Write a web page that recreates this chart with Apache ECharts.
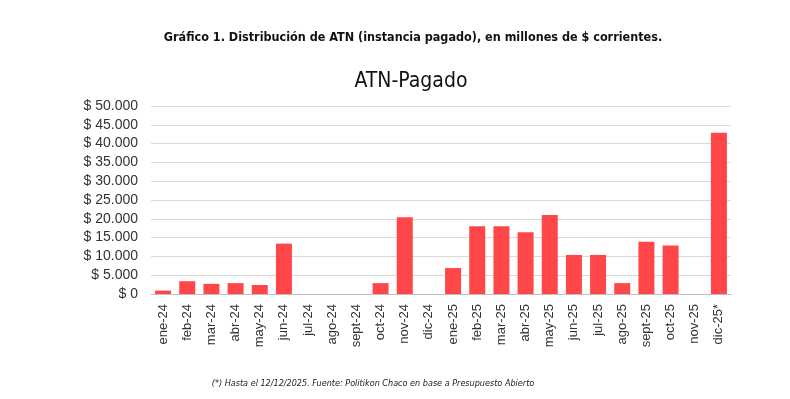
<!DOCTYPE html>
<html>
<head>
    <meta charset="utf-8">
    <title>ATN-Pagado</title>
    <script src="https://cdn.jsdelivr.net/npm/echarts@6/dist/echarts.min.js"></script>
    <style>
        html, body { margin: 0; padding: 0; background: #ffffff; }
        #chart { width: 790px; height: 399px; }
    </style>
</head>
<body>
<div id="chart"></div>
<script>
    // datos (millones de $ corrientes)
    var meses = ['ene-24', 'feb-24', 'mar-24', 'abr-24', 'may-24', 'jun-24', 'jul-24', 'ago-24', 'sept-24', 'oct-24', 'nov-24', 'dic-24',
                 'ene-25', 'feb-25', 'mar-25', 'abr-25', 'may-25', 'jun-25', 'jul-25', 'ago-25', 'sept-25', 'oct-25', 'nov-25', 'dic-25*'];
    var pagado = [900, 3400, 2700, 2900, 2400, 13400, 0, 0, 0, 2900, 20400, 0,
                  6900, 18000, 18000, 16400, 21000, 10400, 10400, 2900, 13900, 12900, 0, 42900];
    var ejeY = {min: 0, max: 50000, interval: 5000};

    var condensada = '"Liberation Sans Narrow", "DejaVu Sans Condensed", "Liberation Sans", sans-serif';

    function pesos(v) {
        return '$ ' + String(v).replace(/\B(?=(\d{3})+(?!\d))/g, '.');
    }

    var chart = echarts.init(document.getElementById('chart'), null, {renderer: 'canvas'});

    var option = {
        animation: false,
        title: [
            {
                text: 'Gráfico 1. Distribución de ATN (instancia pagado), en millones de $ corrientes.',
                left: 408, top: 26, textAlign: 'center',
                textStyle: {fontFamily: condensada, fontSize: 12.5, fontWeight: 'bold', color: '#111'}
            },
            {
                text: 'ATN-Pagado',
                left: 406, top: 66, textAlign: 'center',
                textStyle: {fontFamily: condensada, fontSize: 21, fontWeight: 'normal', color: '#111'}
            },
            {
                text: '(*) Hasta el 12/12/2025. Fuente: Politikon Chaco en base a Presupuesto Abierto',
                left: 368, top: 374, textAlign: 'center',
                textStyle: {fontFamily: condensada, fontSize: 9, fontStyle: 'italic', fontWeight: 'normal', color: '#222'}
            }
        ],
        grid: {left: 151, right: 59, top: 106, bottom: 105},
        xAxis: {
            type: 'category',
            data: meses,
            axisTick: {show: false},
            axisLine: {lineStyle: {color: '#bfbfbf', width: 1}},
            axisLabel: {
                rotate: 90, interval: 0, margin: 10,
                fontFamily: '"Liberation Sans", Arial, sans-serif', fontSize: 13, color: '#333'
            }
        },
        yAxis: {
            type: 'value',
            min: ejeY.min, max: ejeY.max, interval: ejeY.interval,
            axisLine: {show: false},
            axisTick: {show: false},
            splitLine: {lineStyle: {color: '#d9d9d9', width: 1}},
            axisLabel: {
                margin: 13, formatter: pesos,
                fontFamily: '"Liberation Sans", Arial, sans-serif', fontSize: 14, color: '#333'
            }
        },
        series: [{
            name: 'ATN-Pagado',
            type: 'bar',
            data: pagado,
            barWidth: 16,
            itemStyle: {color: '#ff4749'}
        }]
    };

    chart.setOption(option);

    window.onresize = function () {
        chart.resize();
    };
</script>
</body>
</html>
